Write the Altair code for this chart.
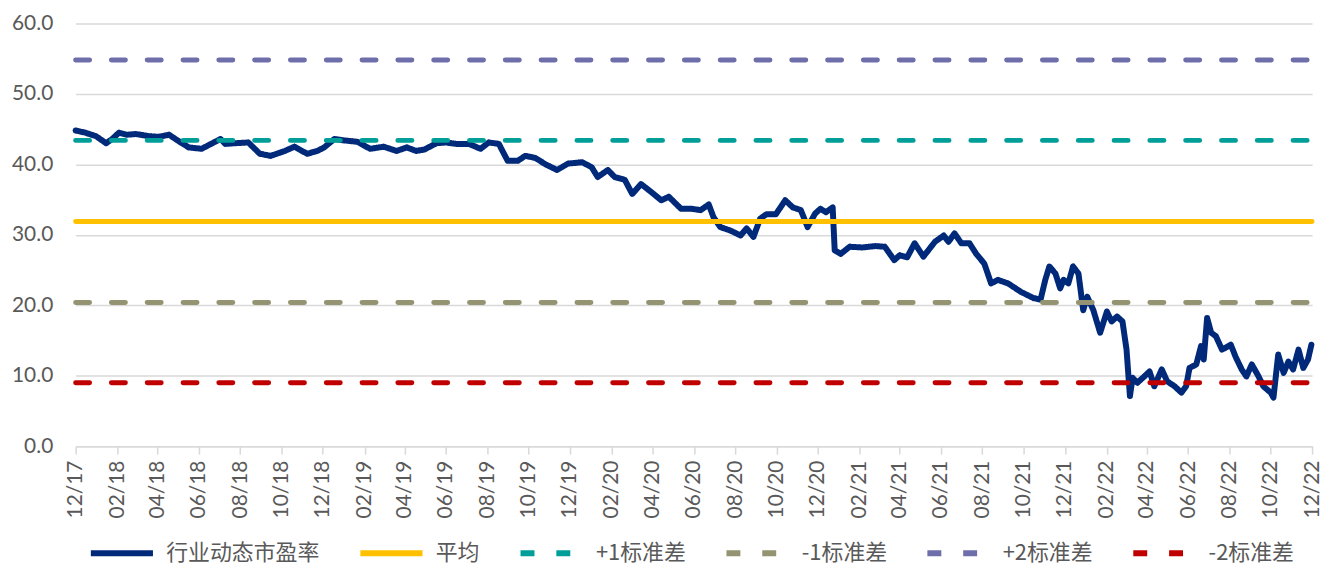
import altair as alt
import pandas as pd

# ---- main series: 行业动态市盈率 ----
dates = [
    "2017-12-01", "2017-12-15", "2017-12-31", "2018-01-15", "2018-01-24", "2018-02-03",
    "2018-02-15", "2018-02-28", "2018-03-19", "2018-04-03", "2018-04-18", "2018-05-02",
    "2018-05-17", "2018-06-05", "2018-06-19", "2018-07-03", "2018-07-10", "2018-07-25",
    "2018-08-13", "2018-08-30", "2018-09-15", "2018-10-06", "2018-10-20", "2018-11-08",
    "2018-11-23", "2018-12-03", "2018-12-18", "2019-01-01", "2019-01-21", "2019-02-09",
    "2019-03-01", "2019-03-20", "2019-04-04", "2019-04-18", "2019-04-30", "2019-05-18",
    "2019-06-01", "2019-06-16", "2019-07-05", "2019-07-22", "2019-08-03", "2019-08-18",
    "2019-08-31", "2019-09-15", "2019-09-26", "2019-10-11", "2019-10-26", "2019-11-12",
    "2019-11-28", "2019-12-19", "2020-01-02", "2020-01-11", "2020-01-26", "2020-02-05",
    "2020-02-20", "2020-03-02", "2020-03-15", "2020-03-27", "2020-04-14", "2020-04-25",
    "2020-05-13", "2020-05-28", "2020-06-11", "2020-06-23", "2020-06-30", "2020-07-10",
    "2020-07-25", "2020-08-09", "2020-08-18", "2020-08-28", "2020-09-07", "2020-09-16",
    "2020-09-30", "2020-10-14", "2020-10-25", "2020-11-06", "2020-11-16", "2020-11-27",
    "2020-12-05", "2020-12-13", "2020-12-23", "2020-12-26", "2021-01-04", "2021-01-17",
    "2021-02-05", "2021-02-24", "2021-03-10", "2021-03-24", "2021-04-01", "2021-04-12",
    "2021-04-23", "2021-05-06", "2021-05-23", "2021-06-05", "2021-06-12", "2021-06-21",
    "2021-07-01", "2021-07-13", "2021-07-23", "2021-08-04", "2021-08-14", "2021-08-24",
    "2021-09-08", "2021-09-27", "2021-10-16", "2021-10-26", "2021-11-02", "2021-11-08",
    "2021-11-17", "2021-11-24", "2021-11-29", "2021-12-06", "2021-12-13", "2021-12-21",
    "2021-12-28", "2022-01-03", "2022-01-12", "2022-01-22", "2022-02-01", "2022-02-08",
    "2022-02-16", "2022-02-24", "2022-03-02", "2022-03-07", "2022-03-11", "2022-03-18",
    "2022-03-26", "2022-04-05", "2022-04-12", "2022-04-23", "2022-05-01", "2022-05-12",
    "2022-05-22", "2022-05-29", "2022-06-03", "2022-06-13", "2022-06-20", "2022-06-24",
    "2022-06-29", "2022-07-05", "2022-07-12", "2022-07-21", "2022-08-03", "2022-08-10",
    "2022-08-19", "2022-08-26", "2022-09-03", "2022-09-13", "2022-09-20", "2022-10-01",
    "2022-10-05", "2022-10-12", "2022-10-20", "2022-10-27", "2022-11-03", "2022-11-11",
    "2022-11-18", "2022-11-25", "2022-11-30",
]
pe = [
    44.8, 44.5, 44.0, 43.0, 43.6, 44.5,
    44.2, 44.3, 44.0, 43.9, 44.2, 43.3,
    42.4, 42.2, 42.9, 43.6, 42.9, 43.0,
    43.1, 41.5, 41.2, 41.9, 42.5, 41.5,
    41.9, 42.4, 43.6, 43.4, 43.2, 42.2,
    42.5, 41.9, 42.4, 41.9, 42.1, 43.0,
    43.1, 42.9, 42.9, 42.2, 43.1, 42.9,
    40.5, 40.5, 41.2, 40.9, 40.0, 39.2,
    40.1, 40.3, 39.6, 38.2, 39.2, 38.2,
    37.8, 35.8, 37.2, 36.3, 34.9, 35.4,
    33.7, 33.7, 33.5, 34.3, 32.5, 31.1,
    30.6, 29.9, 30.9, 29.7, 32.3, 32.9,
    32.9, 34.9, 33.9, 33.5, 31.1, 33.0,
    33.7, 33.2, 33.9, 27.8, 27.3, 28.3,
    28.2, 28.4, 28.3, 26.4, 27.1, 26.8,
    28.8, 26.9, 29.0, 29.9, 29.0, 30.2,
    28.8, 28.8, 27.3, 25.9, 23.1, 23.6,
    23.1, 21.9, 21.0, 20.8, 23.6, 25.5,
    24.5, 22.4, 23.6, 23.1, 25.5, 24.5,
    19.3, 21.2, 19.3, 16.1, 19.1, 17.7,
    18.4, 17.7, 13.7, 7.1, 9.7, 9.0,
    9.7, 10.6, 8.5, 10.9, 9.2, 8.5,
    7.6, 8.5, 11.1, 11.6, 14.2, 12.3,
    18.2, 16.1, 15.6, 13.7, 14.4, 12.7,
    10.9, 9.9, 11.6, 9.9, 8.5, 7.6,
    6.9, 13.0, 10.4, 12.0, 10.9, 13.7,
    11.1, 12.3, 14.4,
]

# ---- reference lines ----
series_names = ["行业动态市盈率", "平均", "+1标准差", "-1标准差", "+2标准差", "-2标准差"]
band_names = ["平均", "+1标准差", "-1标准差", "+2标准差", "-2标准差"]
band_values = [31.9, 43.4, 20.4, 54.8, 9.0]
band_start = "2017-12-01"
band_end = "2022-12-01"

colors = ["#00297A", "#FFC000", "#009E99", "#949472", "#6E6EAA", "#C00000"]
dashes = [[1, 0], [1, 0], [14, 22], [14, 22], [14, 22], [14, 22]]

y_ticks = [0, 10, 20, 30, 40, 50, 60]
tick_months = [(2017, 12)] + [(y, m) for y in range(2018, 2023) for m in (2, 4, 6, 8, 10, 12)]

main_df = pd.DataFrame({"date": dates, "value": pe, "series": series_names[0]})
band_rows = []
for name, v in zip(band_names, band_values):
    band_rows.append({"date": band_start, "value": v, "series": name})
    band_rows.append({"date": band_end, "value": v, "series": name})
band_df = pd.DataFrame(band_rows)

label_color = "#595959"
grid_color = "#D9D9D9"

x_enc = alt.X(
    "date:T",
    scale=alt.Scale(
        type="utc",
        domain=[alt.DateTime(year=2017, month=12, date=1, utc=True),
                alt.DateTime(year=2022, month=12, date=1, utc=True)],
        nice=False,
    ),
    axis=alt.Axis(
        values=[alt.DateTime(year=y, month=m, date=1, utc=True) for y, m in tick_months],
        format="%m/%y",
        labelAngle=-90,
        labelFontSize=21,
        labelFont="Lato",
        labelColor=label_color,
        labelPadding=6,
        tickSize=8,
        tickColor=grid_color,
        tickWidth=1.5,
        domainColor=grid_color,
        domainWidth=1.5,
        grid=False,
        title=None,
        labelOverlap=False,
    ),
)
y_enc = alt.Y(
    "value:Q",
    scale=alt.Scale(domain=[0, 60], nice=False),
    axis=alt.Axis(
        values=y_ticks,
        format=".1f",
        labelFontSize=21,
        labelFont="Lato",
        labelColor=label_color,
        labelPadding=23,
        tickSize=0,
        ticks=False,
        domain=False,
        grid=True,
        gridColor=grid_color,
        gridWidth=1.5,
        title=None,
    ),
)
legend_y = 498
color_enc = alt.Color(
    "series:N",
    scale=alt.Scale(domain=series_names, range=colors),
    legend=alt.Legend(
        title=None,
        orient="none",
        legendX=12,
        legendY=legend_y,
        direction="horizontal",
        columns=6,
        columnPadding=28,
        symbolType="stroke",
        symbolSize=3900,
        symbolStrokeWidth=6,
        labelFontSize=22,
        labelFont="Noto Sans CJK SC",
        labelColor=label_color,
        labelOffset=10,
        padding=0,
    ),
)
dash_enc = alt.StrokeDash(
    "series:N",
    scale=alt.Scale(domain=series_names, range=dashes),
    legend=alt.Legend(title=None, orient="none", legendX=12, legendY=legend_y,
                      direction="horizontal", columns=6),
)

main_line = alt.Chart(main_df).mark_line(strokeWidth=6, strokeJoin="round", strokeCap="round").encode(
    x=x_enc, y=y_enc, color=color_enc, strokeDash=dash_enc
)
band_lines = alt.Chart(band_df).mark_line(strokeWidth=5, strokeCap="round").encode(
    x=x_enc, y=y_enc, color=color_enc, strokeDash=dash_enc
)

chart = (
    alt.layer(main_line, band_lines)
    .properties(
        width=1243,
        height=425,
        autosize=alt.AutoSizeParams(type="none"),
        padding={"left": 68, "top": 14, "right": 13, "bottom": 124},
        background="white",
    )
    .configure_view(stroke=None)
)

chart.save("out.html", embed_options={"renderer": "svg", "actions": False})
